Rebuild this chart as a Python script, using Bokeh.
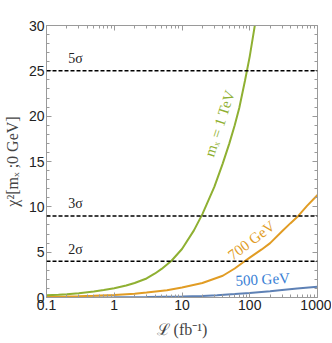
from bokeh.plotting import figure
from bokeh.models import (LogAxis, LinearAxis, Range1d, Span, FixedTicker,
                          SingleIntervalTicker, Label)
from bokeh.embed import file_html
from bokeh.resources import INLINE
import math

# luminosity (fb^-1) and chi^2
lum_1tev = [0.1, 0.15, 0.2, 0.3, 0.5, 0.7, 1, 1.5, 2, 3, 4, 5, 7, 10, 15, 20, 30, 40, 50, 60, 70, 85, 100, 120]
chi_1tev = [0.25, 0.31, 0.37, 0.48, 0.66, 0.82, 1.02, 1.32, 1.6, 2.1, 2.65, 3.15, 4.05, 5.35, 7.4, 9.2, 12.2, 14.8, 17.0, 19.0, 20.9, 23.9, 26.6, 30.2]

lum_700 = [0.1, 0.2, 0.3, 0.5, 1, 2, 3, 6, 10, 20, 40, 60, 84, 100, 150, 200, 300, 400, 520, 700, 1000]
chi_700 = [0.07, 0.11, 0.14, 0.19, 0.28, 0.42, 0.55, 0.8, 1.1, 1.6, 2.4, 3.2, 4.0, 4.4, 5.3, 6.0, 7.3, 8.2, 9.0, 10.1, 11.3]

lum_500 = [0.1, 1, 3, 10, 20, 33, 60, 100, 200, 300, 500, 1000]
chi_500 = [0.01, 0.03, 0.05, 0.1, 0.17, 0.26, 0.38, 0.5, 0.68, 0.82, 0.98, 1.18]

sigma_levels = [4, 9, 25]
sigma_labels = ["2σ", "3σ", "5σ"]

x_ticks = [0.1, 1, 10, 100, 1000]
x_tick_labels = ["0.1", "1", "10", "100", "1000"]

GREEN = "#8FB032"
ORANGE = "#E19C24"
BLUE = "#5E81B5"
AX = "#9a9a9a"
SERIF = "Liberation Serif"
SANS = "Liberation Sans"

minor_x = [m * 10 ** e for e in range(-1, 3) for m in range(2, 10)]

p = figure(frame_width=271, frame_height=272, x_axis_type="log",
           x_range=Range1d(0.1, 1000), y_range=Range1d(0, 30),
           output_backend="svg", toolbar_location=None,
           min_border_left=40, min_border_right=14, min_border_top=25,
           min_border_bottom=36)
p.outline_line_color = None
p.grid.visible = False
p.background_fill_color = "white"

def style(ax, labels=True):
    ax.axis_line_color = AX
    ax.major_tick_line_color = AX
    ax.minor_tick_line_color = AX
    ax.major_tick_in = 5
    ax.major_tick_out = 0
    ax.minor_tick_in = 3
    ax.minor_tick_out = 0
    ax.major_label_text_font = SANS
    ax.major_label_text_font_size = "14px"
    ax.major_label_text_color = "#222222"
    if not labels:
        ax.major_label_text_font_size = "0px"
        ax.major_label_text_color = None

xa = p.xaxis[0]
xa.ticker = FixedTicker(ticks=x_ticks, minor_ticks=minor_x)
xa.major_label_overrides = {v: t for v, t in zip(x_ticks, x_tick_labels)}
style(xa)
xa.major_label_standoff = 2
xa.axis_label = "ℒ (fb⁻¹)"
xa.axis_label_text_font = SERIF
xa.axis_label_text_font_style = "normal"
xa.axis_label_text_font_size = "16px"
xa.axis_label_standoff = 8

ya = p.yaxis[0]
ya.ticker = SingleIntervalTicker(interval=5, num_minor_ticks=5)
style(ya)
ya.major_label_standoff = 2
ya.axis_label = "χ²[mₓ ;0 GeV]"
ya.axis_label_text_font = SERIF
ya.axis_label_text_font_style = "normal"
ya.axis_label_text_font_size = "16px"
ya.axis_label_standoff = 5

top = LogAxis(ticker=FixedTicker(ticks=x_ticks, minor_ticks=minor_x))
style(top, labels=False)
p.add_layout(top, "above")
right = LinearAxis(ticker=SingleIntervalTicker(interval=5, num_minor_ticks=5))
style(right, labels=False)
p.add_layout(right, "right")

for lvl in sigma_levels:
    p.add_layout(Span(location=lvl, dimension="width", line_color="black",
                      line_width=1.5, line_dash="4 2"))

p.line(lum_500, chi_500, line_color=BLUE, line_width=2)
p.line(lum_700, chi_700, line_color=ORANGE, line_width=2)
p.line(lum_1tev, chi_1tev, line_color=GREEN, line_width=2)

for lvl, txt in zip(sigma_levels, sigma_labels):
    p.add_layout(Label(x=0.21, y=lvl + 0.5, text=txt, text_font=SERIF,
                       text_font_size="14px", text_color="#222222",
                       text_baseline="bottom", text_align="left"))

p.add_layout(Label(x=36, y=19.2, text="mₓ = 1 TeV", text_font=SERIF,
                   text_font_size="15px", text_color=GREEN, text_align="center",
                   text_baseline="middle", angle=math.radians(72)))
p.add_layout(Label(x=106, y=6.3, text="700 GeV", text_font=SERIF,
                   text_font_size="15px", text_color=ORANGE, text_align="center",
                   text_baseline="middle", angle=math.radians(37)))
p.add_layout(Label(x=155, y=2.0, text="500 GeV", text_font=SERIF,
                   text_font_size="15px", text_color="#3a7fd5", text_align="center",
                   text_baseline="middle", angle=math.radians(3)))

open("out.html", "w").write(file_html(p, INLINE))
